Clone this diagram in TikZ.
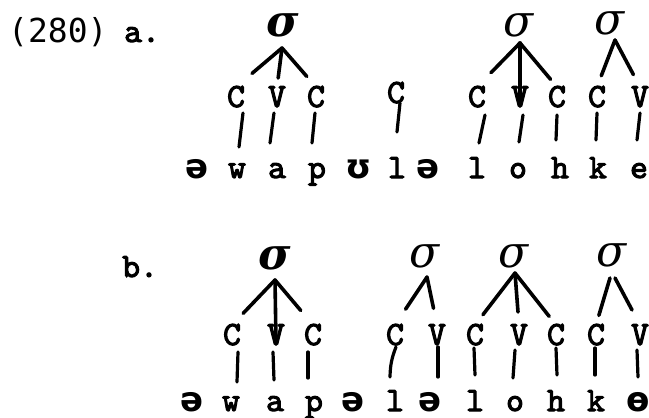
\documentclass[tikz,border=0pt]{standalone}
\usepackage{fontspec}
\newfontfamily\typed[FakeBold=3]{lmmono10-regular.otf}
\newfontfamily\hand{DejaVu Sans}
\newfontfamily\sigfont{DejaVu Serif}
\newfontfamily\numfont{DejaVu Sans Mono}
\tikzset{
  tt/.style={font=\typed\fontsize{34}{40}\selectfont, inner sep=0pt, anchor=base},
  hw/.style={font=\hand\bfseries\fontsize{34}{40}\selectfont, inner sep=0pt, anchor=base},
  sig/.style={font=\sigfont\itshape\fontsize{44}{50}\selectfont, inner sep=0pt},
  sigb/.style={font=\sigfont\bfseries\itshape\fontsize{44}{50}\selectfont, inner sep=0pt},
  br/.style={line width=3.6pt, line cap=round},
  vl/.style={line width=3.2pt, line cap=round}
}
\begin{document}
\begin{tikzpicture}[x=1pt,y=-1pt]
\useasboundingbox (0,0) rectangle (649,418);
% labels
\node[font=\numfont\fontsize{33}{40}\selectfont, inner sep=0pt, anchor=base west] (num) at (8,42) {(280)};
\node[tt, anchor=base west] (la) at (124,42) {a.};
\node[tt, anchor=base west] (lb) at (122,277) {b.};
% ===== (a) =====
\node[sigb] (sA1) at (283,25) {σ};
\node[sig] (sA2) at (519,25) {σ};
\node[sig] (sA3) at (610,23) {σ};
\node[tt] (cA1) at (236,107) {C};
\node[tt] (vA1) at (277,107) {V};
\node[tt] (cA2) at (316,107) {C};
\node[tt] (cA3) at (396,103) {C};
\node[tt] (cA4) at (477,107) {C};
\node[tt] (vA2) at (520,107) {V};
\node[tt] (cA5) at (557,107) {C};
\node[tt] (cA6) at (597,107) {C};
\node[tt] (vA3) at (640,107) {V};
\node[hw] (xA1) at (197,178) {ə};
\node[tt] (wA) at (237,178) {w};
\node[tt] (aA) at (277,178) {a};
\node[tt] (pA) at (317,178) {p};
\node[hw] (uA) at (359,178) {ʊ};
\node[tt] (lA1) at (397,178) {l};
\node[hw] (xA2) at (428,178) {ə};
\node[tt] (lA2) at (477,178) {l};
\node[tt] (oA) at (518,178) {o};
\node[tt] (hA) at (560,178) {h};
\node[tt] (kA) at (598,178) {k};
\node[tt] (eA) at (639,178) {e};
% branches (a)
\draw[br,shorten >=21pt] ([xshift=-1pt,yshift=-23pt]sA1.center) -- ([yshift=20pt]cA1.base);
\draw[br,shorten >=9pt] ([xshift=-1pt,yshift=-23pt]sA1.center) -- ([yshift=20pt]vA1.base);
\draw[br,shorten >=14pt] ([xshift=-1pt,yshift=-23pt]sA1.center) -- ([yshift=20pt]cA2.base);
\draw[br,shorten >=20pt] ([xshift=1pt,yshift=-18pt]sA2.center) -- ([yshift=20pt]cA4.base);
\draw[br] ([xshift=1pt,yshift=-18pt]sA2.center) -- ([yshift=4pt]vA2.base);
\draw[br,shorten >=10pt] ([xshift=1pt,yshift=-18pt]sA2.center) -- ([yshift=20pt]cA5.base);
\draw[br,shorten >=12pt] ([xshift=5pt,yshift=-17pt]sA3.center) -- ([yshift=20pt]cA6.base);
\draw[br,shorten >=14pt] ([xshift=5pt,yshift=-17pt]sA3.center) -- ([yshift=20pt]vA3.base);
% verticals (a)
\draw[vl] ([xshift=7pt,yshift=-6pt]cA1.base) -- ([xshift=2pt,yshift=31pt]wA.base);
\draw[vl] ([xshift=-3pt,yshift=-6pt]vA1.base) -- ([xshift=-7pt,yshift=35pt]aA.base);
\draw[vl] ([xshift=-1pt,yshift=-6pt]cA2.base) -- ([xshift=-5pt,yshift=35pt]pA.base);
\draw[vl] ([xshift=4pt,yshift=0pt]cA3.base) -- ([xshift=0pt,yshift=46pt]lA1.base);
\draw[vl] ([xshift=8pt,yshift=-8pt]cA4.base) -- ([xshift=2pt,yshift=35pt]lA2.base);
\draw[vl] ([xshift=3pt,yshift=-8pt]vA2.base) -- ([xshift=1pt,yshift=36pt]oA.base);
\draw[vl] ([xshift=0pt,yshift=-8pt]cA5.base) -- ([xshift=-4pt,yshift=38pt]hA.base);
\draw[vl] ([xshift=0pt,yshift=-6pt]cA6.base) -- ([xshift=-2pt,yshift=38pt]kA.base);
\draw[vl] ([xshift=0pt,yshift=-6pt]vA3.base) -- ([xshift=-2pt,yshift=38pt]eA.base);
% ===== (b) =====
\node[sigb] (sB1) at (275,258) {σ};
\node[sig] (sB2) at (425,256) {σ};
\node[sig] (sB3) at (514,256) {σ};
\node[sig] (sB4) at (612,255) {σ};
\node[tt] (cB1) at (232,345) {C};
\node[tt] (vB1) at (276,345) {V};
\node[tt] (cB2) at (313,345) {C};
\node[tt] (cB3) at (395,345) {C};
\node[tt] (vB2) at (437,345) {V};
\node[tt] (cB4) at (475,345) {C};
\node[tt] (vB3) at (519,345) {V};
\node[tt] (cB5) at (556,345) {C};
\node[tt] (cB6) at (596,345) {C};
\node[tt] (vB4) at (640,345) {V};
\node[hw] (xB1) at (192,411) {ə};
\node[tt] (wB) at (231,411) {w};
\node[tt] (aB) at (275,411) {a};
\node[tt] (pB) at (314,411) {p};
\node[hw] (xB2) at (353,411) {ə};
\node[tt] (lB1) at (395,411) {l};
\node[hw] (xB3) at (430,411) {ə};
\node[tt] (lB2) at (475,411) {l};
\node[tt] (oB) at (515,411) {o};
\node[tt] (hB) at (556,411) {h};
\node[tt] (kB) at (596,411) {k};
\node[hw] (tB) at (638,411) {ɵ};
% branches (b)
\draw[br,shorten >=16pt] ([yshift=-22pt]sB1.center) -- ([yshift=20pt]cB1.base);
\draw[br] ([yshift=-22pt]sB1.center) -- ([yshift=3pt]vB1.base);
\draw[br,shorten >=19pt] ([yshift=-22pt]sB1.center) -- ([yshift=20pt]cB2.base);
\draw[br,shorten >=19pt] ([xshift=2pt,yshift=-21pt]sB2.center) -- ([yshift=20pt]cB3.base);
\draw[br,shorten >=17pt] ([xshift=2pt,yshift=-21pt]sB2.center) -- ([yshift=20pt]vB2.base);
\draw[br,shorten >=13pt] ([xshift=1pt,yshift=-17pt]sB3.center) -- ([yshift=20pt]cB4.base);
\draw[br,shorten >=13pt] ([xshift=1pt,yshift=-17pt]sB3.center) -- ([yshift=20pt]vB3.base);
\draw[br,shorten >=11pt] ([xshift=1pt,yshift=-17pt]sB3.center) -- ([yshift=20pt]cB5.base);
\draw[br,shorten >=10pt] ([xshift=-2pt,yshift=-23pt]sB4.center) -- ([yshift=20pt]cB6.base);
\draw[br,shorten >=17pt] ([xshift=3pt,yshift=-23pt]sB4.center) -- ([yshift=20pt]vB4.base);
% verticals (b)
\draw[vl] ([xshift=6pt,yshift=-7pt]cB1.base) -- ([xshift=6pt,yshift=29pt]wB.base);
\draw[vl] ([xshift=-3pt,yshift=-7pt]vB1.base) -- ([xshift=-1pt,yshift=31pt]aB.base);
\draw[vl] ([xshift=-5pt,yshift=-7pt]cB2.base) -- ([xshift=-6pt,yshift=33pt]pB.base);
\draw[vl] ([xshift=1pt,yshift=-2pt]cB3.base) to[bend right=10] ([xshift=-5pt,yshift=34pt]lB1.base);
\draw[vl] ([xshift=1pt,yshift=-2pt]vB2.base) -- ([xshift=8pt,yshift=34pt]xB3.base);
\draw[vl] ([xshift=-1pt,yshift=-3pt]cB4.base) -- ([xshift=0pt,yshift=36pt]lB2.base);
\draw[vl] ([xshift=-4pt,yshift=-5pt]vB3.base) -- ([xshift=-2pt,yshift=33pt]oB.base);
\draw[vl] ([xshift=0pt,yshift=-3pt]cB5.base) -- ([xshift=1pt,yshift=36pt]hB.base);
\draw[vl] ([xshift=-1pt,yshift=-3pt]cB6.base) -- ([xshift=-1pt,yshift=36pt]kB.base);
\draw[vl] ([xshift=-3pt,yshift=-5pt]vB4.base) -- ([xshift=0pt,yshift=34pt]tB.base);
\end{tikzpicture}
\end{document}
